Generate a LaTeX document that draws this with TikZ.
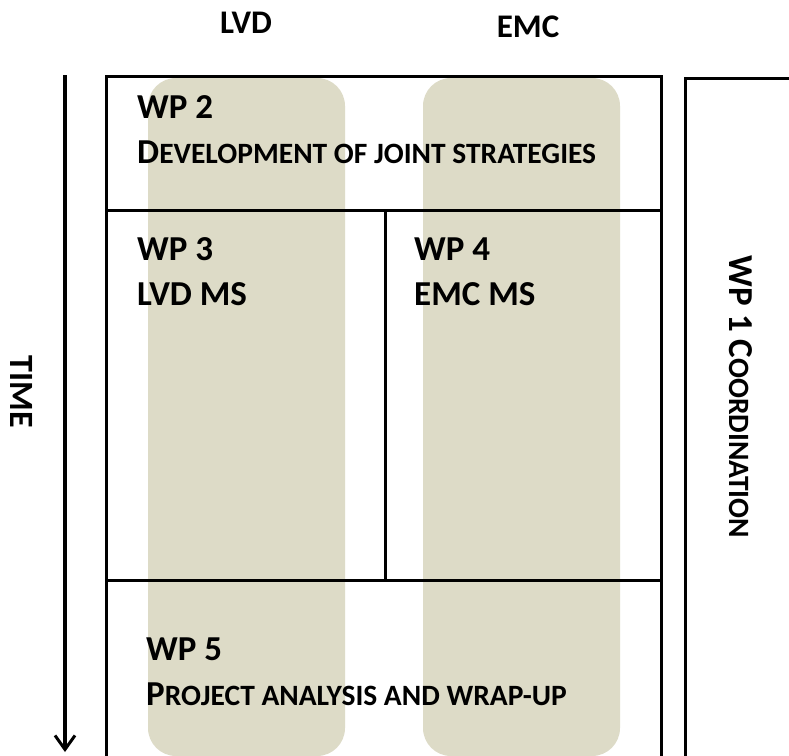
\documentclass[tikz,border=0pt]{standalone}
\usepackage{fontspec}
\setmainfont{Carlito}
\usepackage{tikz}
\usepackage{xcolor}
\usetikzlibrary{arrows.meta}
\definecolor{wpsand}{RGB}{221, 219, 199}
\newcommand{\smallcap}[1]{{\fontsize{29.5}{34}\selectfont #1}}
\tikzset{
  wpline/.style={draw=black, line width=3pt},
  wpband/.style={fill=wpsand, rounded corners=28pt},
  wptext/.style={anchor=base west, inner sep=0pt, font=\bfseries\fontsize{35}{40}\selectfont},
  headtext/.style={anchor=base, inner sep=0pt, font=\bfseries\fontsize{33}{40}\selectfont}
}
\begin{document}
\begin{tikzpicture}[x=1pt, y=-1pt]
\useasboundingbox (0,0) rectangle (789,755);
\clip (0,0) rectangle (789,755);
\fill[white] (0,0) rectangle (789,755);
\fill[wpband] (148,78) rectangle (345,756);
\fill[wpband] (423,78) rectangle (620,756);
\draw[wpline] (106,76) rectangle (661,210);
\draw[wpline] (106,210) rectangle (385,580);
\draw[wpline] (385,210) rectangle (661,580);
\draw[wpline] (106,580) rectangle (661,790);
\draw[wpline] (685,78) rectangle (820,790);
\coordinate (timetop) at (65,75);
\coordinate (timeend) at (65,752);
\draw[line width=3.5pt, -{Straight Barb[length=14pt, width=20pt, line width=3pt]}] (timetop) -- (timeend);
\node[headtext] (lvd) at (246,33) {LVD};
\node[headtext] (emc) at (528,37) {EMC};
\node[rotate=-90, inner sep=0pt, font=\bfseries\fontsize{34}{40}\selectfont] (time) at (22,392) {TIME};
\node[wptext] (wp2) at (137,118) {WP 2};
\node[wptext] (wp2name) at (137,163) {D\smallcap{EVELOPMENT OF JOINT STRATEGIES}};
\node[wptext] (wp3) at (137,260) {WP 3};
\node[wptext] (wp3name) at (137,305) {LVD MS};
\node[wptext] (wp4) at (414,260) {WP 4};
\node[wptext] (wp4name) at (414,305) {EMC MS};
\node[wptext] (wp5) at (146,660) {WP 5};
\node[wptext] (wp5name) at (146,705) {P\smallcap{ROJECT ANALYSIS AND WRAP-UP}};
\node[rotate=-90, inner sep=0pt, font=\bfseries\fontsize{35}{40}\selectfont] (wp1) at (741,397) {WP 1 C\smallcap{OORDINATION}};
\end{tikzpicture}
\end{document}
